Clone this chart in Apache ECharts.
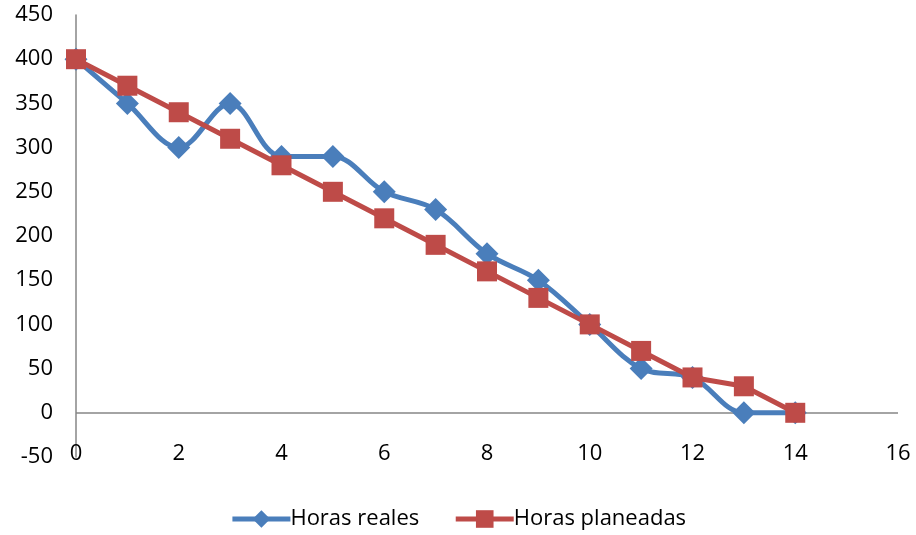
<!DOCTYPE html>
<html>
<head>
<meta charset="utf-8">
<script src="https://cdn.jsdelivr.net/npm/echarts@6/dist/echarts.min.js"></script>
<style>
  html, body { margin: 0; padding: 0; background: #fff; }
  #chart { width: 916px; height: 535px; }
</style>
</head>
<body>
<div id="chart"></div>
<script>
// Burndown: actual vs planned hours per day
const days = [0, 1, 2, 3, 4, 5, 6, 7, 8, 9, 10, 11, 12, 13, 14];
const horasReales = [400, 350, 300, 350, 290, 290, 250, 230, 180, 150, 100, 50, 40, 0, 0];
const horasPlaneadas = [400, 370, 340, 310, 280, 250, 220, 190, 160, 130, 100, 70, 40, 30, 0];
const xTicks = { min: 0, max: 16, step: 2 };
const yTicks = { min: -50, max: 450, step: 50 };

const FONT = '"Open Sans", "Liberation Sans", sans-serif';
const pair = (xs, ys) => xs.map((x, i) => [x, ys[i]]);

const chart = echarts.init(document.getElementById('chart'));
chart.setOption({
  animation: false,
  textStyle: { fontFamily: FONT },
  grid: { left: 76, right: 18, top: 15, bottom: 78 },
  xAxis: {
    type: 'value',
    min: xTicks.min, max: xTicks.max, interval: xTicks.step,
    offset: -14,
    axisLine: { show: false },
    axisTick: { show: false },
    splitLine: { show: false },
    axisLabel: { color: '#000', fontSize: 22, fontFamily: FONT, margin: 0 }
  },
  yAxis: {
    type: 'value',
    min: yTicks.min, max: yTicks.max, interval: yTicks.step,
    axisLine: { show: true, lineStyle: { color: '#868686', width: 1.5 } },
    axisTick: { show: false },
    splitLine: { show: false },
    axisLabel: { color: '#000', fontSize: 22, fontFamily: FONT, margin: 23 }
  },
  legend: {
    bottom: 0,
    left: 'center',
    itemWidth: 58,
    itemHeight: 22,
    itemGap: 34,
    lineStyle: { width: 5 },
    textStyle: { fontSize: 22, color: '#000', fontFamily: FONT, padding: [0, 0, 0, -5] },
    data: ['Horas reales', 'Horas planeadas']
  },
  series: [
    {
      name: 'Horas reales',
      type: 'line',
      smooth: 0.35,
      data: pair(days, horasReales),
      symbol: 'diamond',
      symbolSize: 23,
      lineStyle: { color: '#4A7EBB', width: 5 },
      itemStyle: { color: '#4A7EBB' },
      z: 3,
      markLine: {
        silent: true,
        symbol: 'none',
        label: { show: false },
        lineStyle: { color: '#868686', width: 1.5, type: 'solid' },
        data: [{ yAxis: 0 }],
        z: 1
      }
    },
    {
      name: 'Horas planeadas',
      type: 'line',
      data: pair(days, horasPlaneadas),
      symbol: 'rect',
      symbolSize: 20,
      lineStyle: { color: '#BE4B48', width: 5 },
      itemStyle: { color: '#BE4B48' },
      z: 4
    }
  ]
});
</script>
</body>
</html>
